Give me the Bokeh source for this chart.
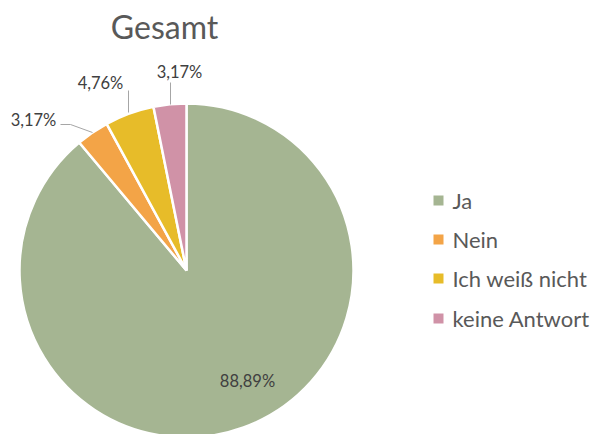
import numpy as np
from bokeh.plotting import figure
from bokeh.models import Range1d, ColumnDataSource
from bokeh.core.properties import value
from bokeh.embed import file_html
from bokeh.resources import INLINE

categories = ["Ja", "Nein", "Ich weiß nicht", "keine Antwort"]
percent = [88.89, 3.17, 4.76, 3.17]
labels = ["88,89%", "3,17%", "4,76%", "3,17%"]
colors = ["#A5B592", "#F3A447", "#E7BC29", "#D092A7"]

W, H = 593, 434
FONT = "Lato"

p = figure(width=W, height=H, x_range=Range1d(0, W), y_range=Range1d(0, H),
           output_backend="svg", toolbar_location=None, min_border=0)
p.axis.visible = False
p.grid.visible = False
p.outline_line_color = None
p.background_fill_color = "white"
p.border_fill_color = "white"

def Y(y):
    return H - y

# pie geometry
cx, cy, r = 186, Y(270), 167
frac = np.array(percent) / sum(percent)
cum = np.concatenate([[0], np.cumsum(frac)])
start = np.pi / 2 - cum[:-1] * 2 * np.pi
end = np.pi / 2 - cum[1:] * 2 * np.pi

src = ColumnDataSource(dict(start=start, end=end, color=colors, cat=categories))
p.wedge(x=cx, y=cy, radius=r, start_angle="start", end_angle="end",
        direction="clock", fill_color="color", line_color="white",
        line_width=2.5, source=src)

# data labels (positions in image px)
lab_x = [247, 33, 100, 179]
lab_y = [Y(380), Y(119), Y(82), Y(71)]
p.text(x=lab_x, y=lab_y, text=labels, text_font=value(FONT),
       text_font_size="16.5px", text_color="#404040",
       text_align="center", text_baseline="middle")

# leader lines
p.line(x=[60, 70, 92], y=[Y(124), Y(124), Y(132)], line_color="#A6A6A6", line_width=1)
p.line(x=[128, 128], y=[Y(90), Y(112)], line_color="#A6A6A6", line_width=1)
p.line(x=[170, 170], y=[Y(82), Y(104)], line_color="#A6A6A6", line_width=1)

# title
p.text(x=[164], y=[Y(26)], text=["Gesamt"], text_font=value(FONT),
       text_font_size="32px", text_color="#595959",
       text_align="center", text_baseline="middle")

# legend
leg_y = [Y(200), Y(239), Y(278), Y(318)]
p.rect(x=[438] * 4, y=leg_y, width=10, height=10, fill_color=colors, line_color=None)
p.text(x=[452] * 4, y=leg_y, text=categories, text_font=value(FONT),
       text_font_size="22px", text_color="#595959",
       text_align="left", text_baseline="middle")

open("out.html", "w").write(file_html(p, INLINE))
